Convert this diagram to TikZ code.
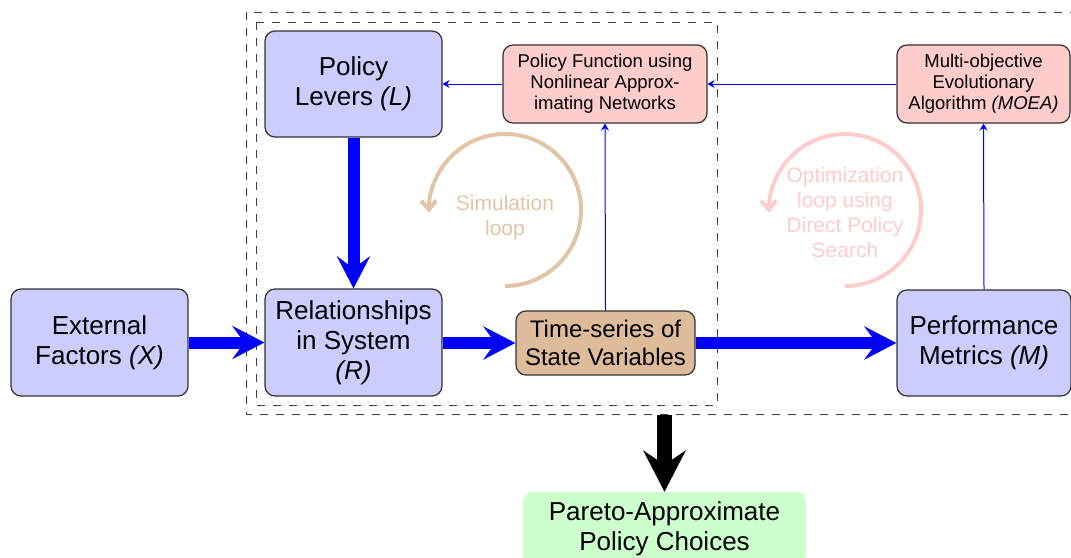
\documentclass[tikz,border=0pt]{standalone}
\usepackage{fontspec}
\setmainfont{Liberation Sans}
\usetikzlibrary{arrows.meta}
\definecolor{boxblue}{RGB}{204,204,255}
\definecolor{boxpink}{RGB}{255,204,204}
\definecolor{boxgreen}{RGB}{204,255,204}
\definecolor{boxtan}{RGB}{222,188,155}
\definecolor{looptan}{RGB}{226,196,166}
\definecolor{looppink}{RGB}{255,204,204}
\definecolor{edgegray}{RGB}{50,50,50}
\begin{document}
\begin{tikzpicture}[x=1pt,y=-1pt,
  bigfont/.style={font=\fontsize{26}{30}\selectfont},
  midfont/.style={font=\fontsize{24}{28}\selectfont},
  smallfont/.style={font=\fontsize{18.5}{21}\selectfont},
  loopfont/.style={font=\fontsize{21}{25}\selectfont},
  box/.style={draw=edgegray, line width=1.2pt, rounded corners=10pt, align=center, inner sep=0pt},
  bluebox/.style={box, fill=boxblue, bigfont},
  pinkbox/.style={box, fill=boxpink, smallfont},
  tanbox/.style={box, fill=boxtan, midfont},
  thickarrow/.style={draw=blue, line width=12pt, -{Stealth[length=32pt,width=33pt,inset=12pt]}},
  thinarrow/.style={draw=blue, line width=1pt, -{Stealth[length=7pt,width=8pt,inset=2.5pt]}},
  blackarrow/.style={draw=black, line width=15pt, -{Stealth[length=41pt,width=42pt,inset=14pt]}},
  loopline/.style={line width=4pt, -{Straight Barb[length=9pt,width=15pt]}},
  dashbox/.style={draw=black!75, line width=1pt, dash pattern=on 8pt off 8pt}
]
\clip (0,0) rectangle (1071,557);
\fill[white] (0,0) rectangle (1071,557);

% dashed frames
\draw[dashbox] (246,12) rectangle (1100,414);
\draw[dashbox] (256,22) rectangle (717,405);
\coordinate (outerS) at (664.5,415);

% boxes
\node[bluebox, minimum width=177pt, minimum height=106pt] (levers) at (353.5,84) {Policy\\Levers \textit{(L)}};
\node[pinkbox, minimum width=204pt, minimum height=78pt] (pf) at (605,84) {Policy Function using\\Nonlinear Approx-\\imating Networks};
\node[pinkbox, minimum width=173pt, minimum height=78pt] (moea) at (983.5,84) {Multi-objective\\Evolutionary\\Algorithm \textit{(MOEA)}};
\node[bluebox, minimum width=177pt, minimum height=107pt] (ext) at (99.5,342.5) {External\\Factors \textit{(X)}};
\node[bluebox, minimum width=177pt, minimum height=107pt] (rel) at (353.5,342.5) {Relationships\\in System\\\textit{(R)}};
\node[tanbox, minimum width=179pt, minimum height=64pt] (time) at (605.5,343) {Time-series of\\State Variables};
\node[bluebox, minimum width=174pt, minimum height=106pt] (perf) at (984,343) {Performance\\Metrics \textit{(M)}};
\node[fill=boxgreen, rounded corners=10pt, inner sep=0pt, align=center, bigfont, minimum width=283pt, minimum height=74pt] (pareto) at (664.5,529) {Pareto-Approximate\\Policy Choices};

% loops
\draw[loopline, draw=looptan] (505,286) arc[start angle=90, end angle=-182, radius=76];
\node[loopfont, text=looptan, align=center] (simlabel) at (505,218) {Simulation\\loop};
\draw[loopline, draw=looppink] (845,286) arc[start angle=90, end angle=-182, radius=76];
\node[loopfont, text=looppink, align=center] (optlabel) at (845,212) {Optimization\\loop using\\Direct Policy\\Search};

% connectors
\draw[thickarrow] (ext.east) -- (rel.west);
\draw[thickarrow] (levers.south) -- (rel.north);
\draw[thickarrow] (rel.east |- time.west) -- (time.west);
\draw[thickarrow] (time.east) -- (perf.west |- time.east);
\draw[thinarrow] (pf.west) -- (levers.east |- pf.west);
\draw[thinarrow] (moea.west) -- (pf.east);
\draw[thinarrow] (time.north) -- (pf.south);
\draw[thinarrow] (perf.north) -- (moea.south);
\draw[blackarrow] (outerS) -- (pareto.north);
\end{tikzpicture}
\end{document}
